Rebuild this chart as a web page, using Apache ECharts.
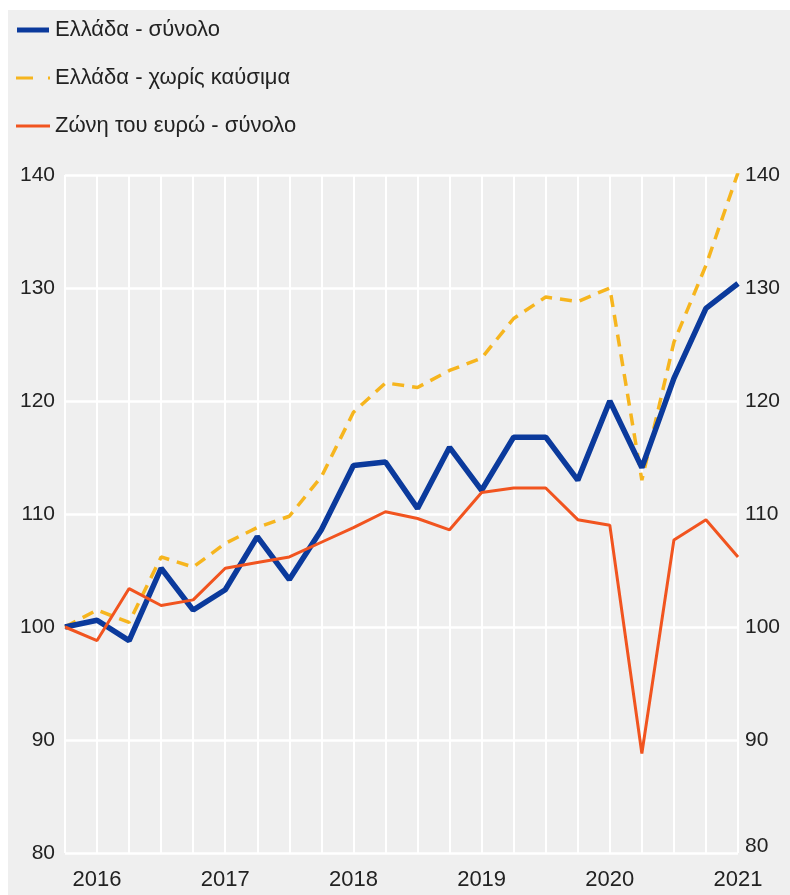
<!DOCTYPE html>
<html>
<head>
<meta charset="utf-8">
<script src="https://cdn.jsdelivr.net/npm/echarts@6/dist/echarts.min.js"></script>
<style>
  html, body { margin: 0; padding: 0; background: #ffffff; }
  #chart { position: absolute; left: 8px; top: 10px; width: 782px; height: 885px; }
</style>
</head>
<body>
<div id="chart"></div>
<script>
// τρίμηνα 2016Α - 2021Β
var quarters = [
  '2016Q1', '2016Q2', '2016Q3', '2016Q4',
  '2017Q1', '2017Q2', '2017Q3', '2017Q4',
  '2018Q1', '2018Q2', '2018Q3', '2018Q4',
  '2019Q1', '2019Q2', '2019Q3', '2019Q4',
  '2020Q1', '2020Q2', '2020Q3', '2020Q4',
  '2021Q1', '2021Q2'
]
var seriesNames = ['Ελλάδα - σύνολο', 'Ελλάδα - χωρίς καύσιμα', 'Ζώνη του ευρώ - σύνολο']
var greeceTotal = [100, 100.6, 98.8, 105.2, 101.5, 103.3, 108.0, 104.2, 108.6, 114.3, 114.6,
  110.5, 115.9, 112.1, 116.8, 116.8, 113.0, 120.0, 114.1, 122.0, 128.2, 130.4]
var greeceExFuel = [100, 101.5, 100.4, 106.2, 105.3, 107.4, 108.8, 109.8, 113.3, 119.0, 121.6,
  121.2, 122.7, 123.8, 127.3, 129.2, 128.8, 130.0, 113.0, 125.2, 132.0, 140.2]
var euroArea = [100, 98.8, 103.4, 101.9, 102.4, 105.2, 105.7, 106.2, 107.5, 108.8, 110.2,
  109.6, 108.6, 111.9, 112.3, 112.3, 109.5, 109.0, 88.8, 107.7, 109.5, 106.2]
var yTicks = { min: 80, max: 140, interval: 10 }

var chart = echarts.init(document.getElementById('chart'))
var labelFont = {
  color: '#222',
  fontSize: 21,
  fontFamily: 'Liberation Sans, Arial, sans-serif'
}

chart.setOption({
  backgroundColor: '#efefef',
  animation: false,
  legend: {
    orient: 'vertical',
    left: 8,
    top: 9,
    padding: 0,
    itemWidth: 34,
    itemHeight: 5,
    itemGap: 26,
    // εικονίδια σαν στο πρωτότυπο: γραμμή, διακεκομμένη, λεπτή γραμμή
    data: [
      { name: seriesNames[0], icon: 'path://M0,0H32V5H0Z' },
      { name: seriesNames[1], icon: 'path://M0,1H17V4H0Z M32,1H34V4H32Z' },
      { name: seriesNames[2], icon: 'path://M0,1H32V4H0Z' }
    ],
    textStyle: { color: '#222', fontSize: 22, fontFamily: labelFont.fontFamily }
  },
  grid: {
    left: 57,
    right: 52,
    top: 165,
    bottom: 42
  },
  xAxis: {
    type: 'category',
    data: quarters,
    boundaryGap: false,
    axisLine: { show: false },
    axisTick: { show: false },
    axisLabel: Object.assign({
      margin: 16,
      // μόνο το έτος, στο 2ο τρίμηνο
      interval: function (i) { return i % 4 === 1 },
      formatter: function (v) { return v.slice(0, 4) }
    }, labelFont, { fontSize: 22 }),
    splitLine: {
      show: true,
      interval: 0,
      lineStyle: { color: '#ffffff', width: 2 }
    }
  },
  yAxis: [{
    type: 'value',
    position: 'left',
    min: yTicks.min,
    max: yTicks.max,
    interval: yTicks.interval,
    axisLine: { show: false },
    axisTick: { show: false },
    axisLabel: Object.assign({ margin: 10 }, labelFont),
    splitLine: { lineStyle: { color: '#ffffff', width: 2.5 } }
  }, {
    type: 'value',
    position: 'right',
    min: yTicks.min,
    max: yTicks.max,
    interval: yTicks.interval,
    axisLine: { show: false },
    axisTick: { show: false },
    axisLabel: Object.assign({
      margin: 7,
      // το 80 δεξιά ανεβαίνει λίγο πάνω από το 2021
      formatter: function (v) { return v === yTicks.min ? '{low|' + v + '}' : String(v) },
      rich: { low: Object.assign({ padding: [0, 0, 14, 0] }, labelFont) }
    }, labelFont),
    splitLine: { show: false }
  }],
  series: [{
    name: seriesNames[0],
    type: 'line',
    data: greeceTotal,
    symbol: 'none',
    z: 3,
    itemStyle: { color: '#0b3a9c' },
    lineStyle: { color: '#0b3a9c', width: 5.5 }
  }, {
    name: seriesNames[1],
    type: 'line',
    data: greeceExFuel,
    symbol: 'none',
    z: 2,
    itemStyle: { color: '#f6b51e' },
    lineStyle: { color: '#f6b51e', width: 3.5, type: [12, 8] }
  }, {
    name: seriesNames[2],
    type: 'line',
    data: euroArea,
    symbol: 'none',
    z: 4,
    itemStyle: { color: '#f1541f' },
    lineStyle: { color: '#f1541f', width: 3 }
  }]
})
</script>
</body>
</html>
